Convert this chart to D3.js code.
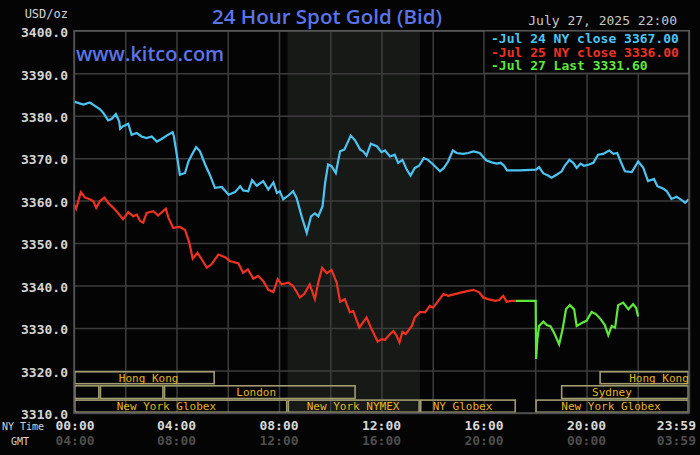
<!DOCTYPE html>
<html>
<head>
<meta charset="utf-8">
<script src="https://cdn.jsdelivr.net/npm/d3@7"></script>
<style>
  body { margin: 0; background: #040404; }
  svg { display: block; }
</style>
</head>
<body>
<div id="chart"></div>
<script>
// minutes since NY midnight, price (USD/oz)
var jul24 = [
  [0,3383.3],[22,3382.6],[37,3383.1],[49,3382.3],[61,3381.5],[69,3380.6],[80,3378.9],[88,3379.2],
  [98,3380.4],[106,3378.6],[108,3376.9],[115,3377.5],[127,3378.1],[135,3375.5],[147,3375.9],
  [158,3375.1],[170,3374.7],[182,3375.1],[194,3373.9],[205,3374.5],[217,3375.3],[231,3376.1],
  [234,3375.1],[240,3371.2],[248,3366.1],[260,3366.5],[268,3369.2],[276,3370.8],[286,3372.6],
  [295,3371.6],[307,3368.5],[318,3366.1],[330,3363.0],[346,3363.2],[362,3361.4],[377,3362.0],
  [389,3363.4],[396,3362.4],[408,3362.2],[417,3364.8],[428,3363.5],[443,3364.6],[455,3362.6],
  [467,3364.3],[475,3361.8],[482,3362.2],[490,3360.3],[502,3361.2],[513,3362.2],[521,3360.7],
  [533,3356.3],[545,3352.4],[555,3356.3],[564,3357.0],[572,3356.3],[582,3358.7],[588,3364.2],
  [595,3368.5],[603,3368.1],[613,3366.5],[623,3371.6],[633,3372.0],[648,3375.3],[658,3374.2],
  [670,3372.0],[677,3371.6],[685,3370.6],[695,3373.4],[709,3372.8],[720,3371.4],[728,3371.8],
  [740,3370.4],[751,3370.8],[759,3368.9],[769,3369.6],[779,3367.3],[788,3365.9],[798,3367.7],
  [808,3368.2],[819,3370.0],[829,3369.6],[841,3368.5],[857,3366.9],[866,3367.7],[876,3369.2],
  [887,3371.8],[896,3371.2],[911,3371.0],[923,3371.2],[935,3371.6],[950,3371.2],[965,3369.5],
  [978,3369.0],[990,3368.7],[999,3368.9],[1007,3368.2],[1014,3367.1],[1044,3367.1],[1082,3367.3],
  [1089,3367.9],[1099,3366.4],[1110,3365.9],[1118,3365.4],[1130,3366.1],[1142,3366.9],[1149,3368.2],
  [1160,3369.6],[1169,3368.9],[1177,3367.7],[1186,3368.7],[1194,3368.2],[1206,3368.5],[1216,3368.9],
  [1227,3370.8],[1239,3371.0],[1253,3371.8],[1263,3371.0],[1272,3371.2],[1280,3369.2],[1290,3366.9],
  [1306,3366.7],[1321,3369.2],[1333,3367.7],[1344,3364.6],[1358,3365.1],[1366,3363.4],[1380,3362.8],
  [1388,3362.2],[1399,3360.4],[1411,3360.9],[1423,3360.1],[1431,3359.5],[1439,3360.3]
];

var jul25 = [
  [0,3359.1],[5,3358.1],[16,3362.0],[26,3360.7],[37,3360.3],[45,3359.9],[52,3358.3],[61,3359.9],
  [71,3360.7],[80,3359.5],[96,3357.9],[115,3355.6],[127,3357.3],[139,3356.3],[147,3356.7],
  [155,3355.2],[162,3354.8],[170,3357.1],[186,3357.5],[197,3356.5],[215,3358.1],[221,3356.0],
  [232,3353.6],[248,3353.8],[260,3353.1],[270,3350.1],[278,3346.3],[289,3347.7],[299,3346.2],
  [311,3344.2],[322,3345.0],[338,3347.3],[348,3346.9],[355,3346.6],[365,3345.8],[385,3345.2],
  [396,3343.0],[407,3343.8],[420,3341.6],[431,3342.3],[443,3341.1],[455,3339.0],[467,3338.5],
  [477,3341.5],[486,3340.3],[502,3340.7],[513,3339.9],[529,3337.2],[539,3338.0],[552,3340.3],
  [564,3336.8],[572,3340.7],[581,3344.2],[592,3342.9],[603,3343.7],[615,3340.7],[623,3336.2],
  [634,3336.8],[646,3333.7],[654,3334.0],[668,3330.1],[685,3332.5],[697,3329.7],[711,3326.8],
  [720,3327.4],[728,3327.2],[740,3328.6],[748,3329.3],[755,3328.3],[762,3326.6],[769,3329.1],
  [777,3328.6],[791,3330.5],[798,3332.5],[810,3333.8],[822,3333.7],[833,3335.2],[841,3334.8],
  [853,3336.4],[865,3338.0],[876,3337.6],[892,3338.0],[908,3338.4],[921,3338.7],[935,3339.0],
  [949,3338.4],[958,3337.2],[970,3336.8],[986,3336.4],[996,3336.6],[1005,3337.6],[1013,3336.2],
  [1025,3336.4],[1035,3336.4]
];

var jul27 = [
  [1035,3336.4],[1081,3336.4],[1082,3322.7],[1085,3327.4],[1089,3330.5],[1099,3331.5],[1107,3330.7],
  [1116,3330.4],[1124,3328.9],[1136,3326.2],[1144,3329.7],[1152,3334.4],[1161,3335.4],[1171,3334.4],
  [1177,3330.5],[1189,3331.2],[1200,3331.7],[1212,3333.8],[1222,3333.3],[1233,3332.1],[1243,3330.7],
  [1251,3328.3],[1259,3330.5],[1267,3330.1],[1274,3335.4],[1286,3336.0],[1298,3334.4],[1309,3335.6],
  [1316,3334.8],[1321,3332.7]
];

var legendLabels = ["-Jul 24 NY close 3367.00", "-Jul 25 NY close 3336.00", "-Jul 27 Last 3331.60"];
var yTicks = [3310, 3320, 3330, 3340, 3350, 3360, 3370, 3380, 3390, 3400];
var nyTimeTicks = [0, 240, 480, 720, 960, 1200, 1439];
var nyTimeLabels = ["00:00", "04:00", "08:00", "12:00", "16:00", "20:00", "23:59"];
var gmtLabels = ["04:00", "08:00", "12:00", "16:00", "20:00", "00:00", "03:59"];

// trading sessions: [start, end, row, label, label start]
var sessions = [
  [0, 330, 0, "Hong Kong", 105],
  [1230, 1440, 0, "Hong Kong", 1300],
  [0, 60, 1, "", 0],
  [60, 210, 1, "", 0],
  [210, 660, 1, "London", 380],
  [1140, 1440, 1, "Sydney", 1213],
  [0, 500, 2, "New York Globex", 100],
  [500, 810, 2, "New York NYMEX", 545],
  [810, 1035, 2, "NY Globex", 840],
  [1080, 1440, 2, "New York Globex", 1141]
];
var nymex = [500, 810];

var width = 700, height = 455;
var margin = {top: 30.7, right: 11, bottom: 42, left: 74};

var x = d3.scaleLinear().domain([0, 1440]).range([margin.left, width - margin.right]);
var y = d3.scaleLinear().domain([3310, 3400]).range([height - margin.bottom, margin.top]);

var svg = d3.select("#chart").append("svg")
    .attr("width", width)
    .attr("height", height);

svg.append("rect")
    .attr("width", width)
    .attr("height", height)
    .attr("fill", "#040404");

// NYMEX shaded hours
svg.append("rect")
    .attr("x", x(nymex[0]))
    .attr("y", y(3400))
    .attr("width", x(nymex[1]) - x(nymex[0]))
    .attr("height", y(3310) - y(3400))
    .attr("fill", "#161916");

// grid
svg.append("g")
    .attr("transform", "translate(0," + y(3310) + ")")
    .call(d3.axisBottom(x).tickValues(d3.range(0, 1441, 120)).tickSize(-(y(3310) - y(3400))).tickFormat(""))
    .call(g => g.select(".domain").remove())
    .call(g => g.selectAll("line").attr("stroke", "#3c3c3c").attr("stroke-width", 1.5));

svg.append("g")
    .attr("transform", "translate(" + x(0) + ",0)")
    .call(d3.axisLeft(y).tickValues(yTicks).tickSize(-(x(1440) - x(0))).tickFormat(d3.format(".1f")).tickPadding(6))
    .call(g => g.select(".domain").remove())
    .call(g => g.selectAll("line").attr("stroke", "#3c3c3c").attr("stroke-width", 1.5))
    .call(g => g.selectAll("text")
        .attr("fill", "#d4d4d4")
        .attr("font-family", "DejaVu Sans Mono")
        .attr("font-weight", "bold")
        .attr("font-size", "13px")
        .attr("dy", "0.45em"));

svg.append("text")
    .attr("x", 68).attr("y", 18)
    .attr("text-anchor", "end")
    .attr("fill", "#d4d4d4")
    .attr("font-family", "DejaVu Sans Mono")
    .attr("font-size", "12px")
    .text("USD/oz");

// session boxes
var rowTop = [371, 385, 399.3];
var rowH = [13.5, 14.3, 13.7];
var sess = svg.append("g");
sessions.forEach(function(s) {
  sess.append("rect")
      .attr("x", x(s[0]) + 0.8)
      .attr("y", rowTop[s[2]] + 0.8)
      .attr("width", x(s[1]) - x(s[0]) - 1.6)
      .attr("height", rowH[s[2]] - 1.6)
      .attr("fill", "none")
      .attr("stroke", "#a09c70")
      .attr("stroke-width", 1.6);
  if (s[3]) {
    sess.append("text")
        .attr("x", x(s[4]))
        .attr("y", rowTop[s[2]] + rowH[s[2]] - 3)
        .attr("fill", "#e6b422")
        .attr("font-family", "DejaVu Sans Mono")
        .attr("font-size", "11px")
        .text(s[3]);
  }
});

// price lines
var line = d3.line()
    .x(function(d) { return x(d[0]); })
    .y(function(d) { return y(d[1]); });

[[jul24, "#4cc4f2"], [jul25, "#ee3222"], [jul27, "#5ee83c"]].forEach(function(p) {
  svg.append("path")
      .datum(p[0])
      .attr("d", line)
      .attr("fill", "none")
      .attr("stroke", p[1])
      .attr("stroke-width", 2.2)
      .attr("stroke-linejoin", "miter");
});

// legend
svg.append("rect")
    .attr("x", 484).attr("y", y(3400))
    .attr("width", x(1440) - 484).attr("height", 42.5)
    .attr("fill", "#040404")
    .attr("stroke", "#555")
    .attr("stroke-width", 1);

var legendColors = ["#4cc4f2", "#ee3222", "#5ee83c"];
legendLabels.forEach(function(t, i) {
  svg.append("text")
      .attr("x", 491)
      .attr("y", 43 + i * 13.7)
      .attr("fill", legendColors[i])
      .attr("font-family", "DejaVu Sans Mono")
      .attr("font-weight", "bold")
      .attr("font-size", "13px")
      .text(t);
});

// frame
svg.append("rect")
    .attr("x", x(0)).attr("y", y(3400))
    .attr("width", x(1440) - x(0)).attr("height", y(3310) - y(3400))
    .attr("fill", "none")
    .attr("stroke", "#555")
    .attr("stroke-width", 1.5);

// title and header texts
svg.append("text")
    .attr("x", 327).attr("y", 24)
    .attr("text-anchor", "middle")
    .attr("fill", "#5b74e8")
    .attr("font-family", "Open Sans")
    .attr("font-weight", 600)
    .attr("font-size", "20.5px")
    .text("24 Hour Spot Gold (Bid)");

svg.append("text")
    .attr("x", 76).attr("y", 61)
    .attr("fill", "#5b74e8")
    .attr("font-family", "Open Sans")
    .attr("font-weight", 600)
    .attr("font-size", "20px")
    .text("www.kitco.com");

svg.append("text")
    .attr("x", 677).attr("y", 25)
    .attr("text-anchor", "end")
    .attr("fill", "#c8c8c8")
    .attr("font-family", "DejaVu Sans Mono")
    .attr("font-size", "13px")
    .text("July 27, 2025 22:00");

// x axis labels
svg.append("text")
    .attr("x", 2).attr("y", 430)
    .attr("fill", "#d4d4d4")
    .attr("font-family", "DejaVu Sans Mono")
    .attr("font-size", "10px")
    .text("NY Time");
svg.append("text")
    .attr("x", 11).attr("y", 445)
    .attr("fill", "#d4d4d4")
    .attr("font-family", "DejaVu Sans Mono")
    .attr("font-size", "10px")
    .text("GMT");

nyTimeTicks.forEach(function(t, i) {
  var last = i === nyTimeTicks.length - 1;
  svg.append("text")
      .attr("x", last ? 696 : x(t) + (i === 0 ? 1 : 0))
      .attr("y", 430)
      .attr("text-anchor", last ? "end" : "middle")
      .attr("fill", "#d8d8d8")
      .attr("font-family", "DejaVu Sans Mono")
      .attr("font-weight", "bold")
      .attr("font-size", "13px")
      .text(nyTimeLabels[i]);
  svg.append("text")
      .attr("x", last ? 696 : x(t) + (i === 0 ? 1 : 0))
      .attr("y", 445)
      .attr("text-anchor", last ? "end" : "middle")
      .attr("fill", "#4e4e4e")
      .attr("font-family", "DejaVu Sans Mono")
      .attr("font-weight", "bold")
      .attr("font-size", "13px")
      .text(gmtLabels[i]);
});
</script>
</body>
</html>
